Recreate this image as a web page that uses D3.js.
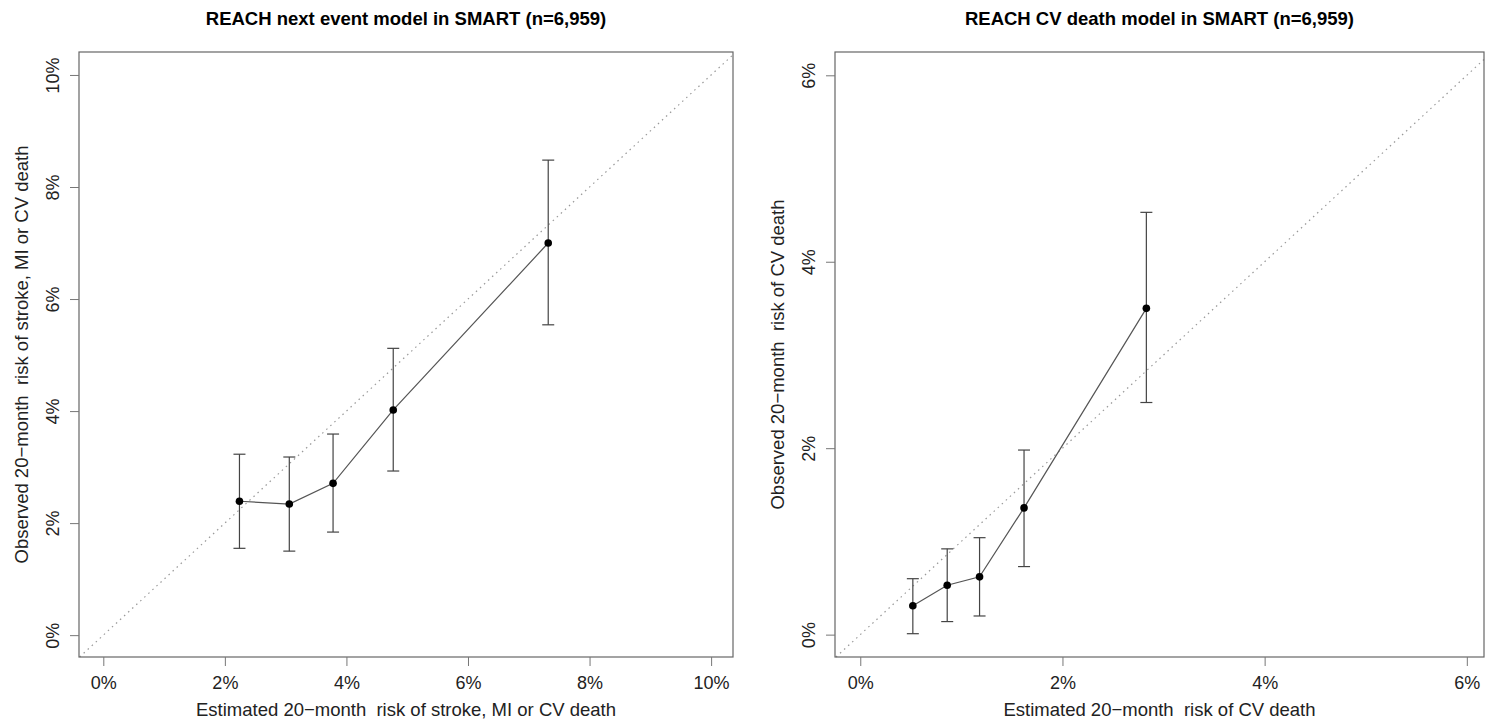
<!DOCTYPE html>
<html>
<head>
<meta charset="utf-8">
<script src="https://cdn.jsdelivr.net/npm/d3@7"></script>
<style>
  body { margin: 0; background: #fff; }
  text { font-family: "Liberation Sans", Arial, sans-serif; white-space: pre; }
</style>
</head>
<body>
<script>
// left panel: REACH next event model
const nextEstimated = [2.24, 3.06, 3.78, 4.77, 7.32];
const nextObserved  = [2.39, 2.34, 2.71, 4.02, 7.00];
const nextLower     = [1.55, 1.50, 1.84, 2.93, 5.54];
const nextUpper     = [3.23, 3.18, 3.59, 5.12, 8.48];
const nextTicks     = [0, 2, 4, 6, 8, 10];

// right panel: REACH CV death model
const cvEstimated = [0.52, 0.86, 1.18, 1.62, 2.83];
const cvObserved  = [0.31, 0.53, 0.62, 1.36, 3.50];
const cvLower     = [0.01, 0.14, 0.20, 0.73, 2.49];
const cvUpper     = [0.60, 0.92, 1.04, 1.98, 4.53];
const cvTicks     = [0, 2, 4, 6];

const W = 1486, H = 723;
const svg = d3.select("body").append("svg").attr("width", W).attr("height", H);

const panels = [
  {
    title: "REACH next event model in SMART (n=6,959)",
    xTitle: "Estimated 20\u2212month  risk of stroke, MI or CV death",
    yTitle: "Observed 20\u2212month  risk of stroke, MI or CV death",
    est: nextEstimated, obs: nextObserved, lo: nextLower, hi: nextUpper,
    ticks: nextTicks,
    xDomain: [-0.4, 10.36], yDomain: [-0.39, 10.41],
    left: 79, right: 733
  },
  {
    title: "REACH CV death model in SMART (n=6,959)",
    xTitle: "Estimated 20\u2212month  risk of CV death",
    yTitle: "Observed 20\u2212month  risk of CV death",
    est: cvEstimated, obs: cvObserved, lo: cvLower, hi: cvUpper,
    ticks: cvTicks,
    xDomain: [-0.25, 6.17], yDomain: [-0.24, 6.25],
    left: 835, right: 1484
  }
];

const plotTop = 52, plotBottom = 657;
const tickFont = "18px", labelFont = "18.5px";

panels.forEach(p => {
  const x = d3.scaleLinear().domain(p.xDomain).range([p.left, p.right]);
  const y = d3.scaleLinear().domain(p.yDomain).range([plotBottom, plotTop]);
  const g = svg.append("g");
  const cx = (p.left + p.right) / 2;

  g.append("text")
    .attr("x", cx).attr("y", 25)
    .attr("text-anchor", "middle")
    .style("font-size", labelFont).style("font-weight", "bold")
    .text(p.title);

  // diagonal y = x, clipped to the box
  const d0 = Math.max(p.xDomain[0], p.yDomain[0]);
  const d1 = Math.min(p.xDomain[1], p.yDomain[1]);
  g.append("line")
    .attr("x1", x(d0)).attr("y1", y(d0))
    .attr("x2", x(d1)).attr("y2", y(d1))
    .attr("stroke", "#999").attr("stroke-width", 1.2)
    .attr("stroke-dasharray", "1.5,4");

  // box
  g.append("rect")
    .attr("x", p.left).attr("y", plotTop)
    .attr("width", p.right - p.left).attr("height", plotBottom - plotTop)
    .attr("fill", "none").attr("stroke", "#666").attr("stroke-width", 1.2);

  // x axis
  const xa = g.append("g")
    .attr("transform", `translate(0,${plotBottom})`)
    .call(d3.axisBottom(x).tickValues(p.ticks).tickSize(9).tickPadding(10).tickFormat(d => d + "%"));
  xa.select(".domain").remove();
  xa.selectAll("line").attr("stroke", "#777");
  xa.selectAll("text").style("font-size", tickFont).attr("fill", "#222").attr("font-family", null);

  // y axis, rotated labels
  const ya = g.append("g")
    .attr("transform", `translate(${p.left},0)`)
    .call(d3.axisLeft(y).tickValues(p.ticks).tickSize(9).tickFormat(d => d + "%"));
  ya.select(".domain").remove();
  ya.selectAll("line").attr("stroke", "#777");
  ya.selectAll("text")
    .style("font-size", tickFont).attr("fill", "#222").attr("font-family", null)
    .attr("x", null).attr("dy", null)
    .attr("text-anchor", "middle")
    .attr("transform", "translate(-20,0) rotate(-90)");

  g.append("text")
    .attr("x", cx).attr("y", 716)
    .attr("text-anchor", "middle")
    .style("font-size", labelFont).attr("fill", "#222")
    .text(p.xTitle);

  g.append("text")
    .attr("transform", `translate(${p.left - 51},${(plotTop + plotBottom) / 2}) rotate(-90)`)
    .attr("text-anchor", "middle")
    .style("font-size", labelFont).attr("fill", "#222")
    .text(p.yTitle);

  const pts = p.est.map((e, i) => ({ e, o: p.obs[i], lo: p.lo[i], hi: p.hi[i] }));

  // error bars
  const eb = g.append("g").attr("stroke", "#444").attr("stroke-width", 1.2);
  eb.selectAll(".v").data(pts).enter().append("line")
    .attr("x1", d => x(d.e)).attr("x2", d => x(d.e))
    .attr("y1", d => y(d.lo)).attr("y2", d => y(d.hi));
  eb.selectAll(".capHi").data(pts).enter().append("line")
    .attr("x1", d => x(d.e) - 6).attr("x2", d => x(d.e) + 6)
    .attr("y1", d => y(d.hi)).attr("y2", d => y(d.hi));
  eb.selectAll(".capLo").data(pts).enter().append("line")
    .attr("x1", d => x(d.e) - 6).attr("x2", d => x(d.e) + 6)
    .attr("y1", d => y(d.lo)).attr("y2", d => y(d.lo));

  g.append("path")
    .datum(pts)
    .attr("fill", "none").attr("stroke", "#555").attr("stroke-width", 1.2)
    .attr("d", d3.line().x(d => x(d.e)).y(d => y(d.o)));

  g.selectAll(".pt").data(pts).enter().append("circle")
    .attr("cx", d => x(d.e)).attr("cy", d => y(d.o))
    .attr("r", 3.8).attr("fill", "#000");
});
</script>
</body>
</html>
